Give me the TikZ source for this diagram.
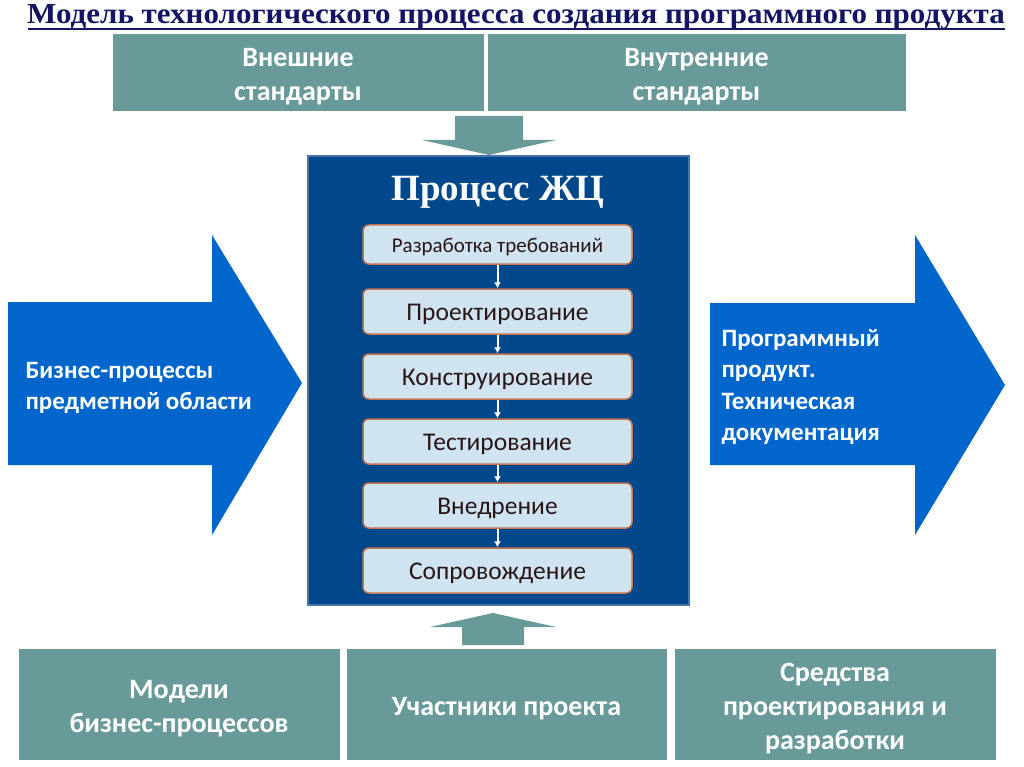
\documentclass[tikz,border=0pt]{standalone}
\usepackage{fontspec}
\setmainfont{Carlito}
\newfontfamily\titlefont{Liberation Serif}
\newfontfamily\titlewide[FakeStretch=1.07]{Liberation Serif}
\usetikzlibrary{arrows.meta}
\definecolor{teal1}{RGB}{104,154,154}
\definecolor{navy1}{RGB}{0,71,139}
\definecolor{navyedge}{RGB}{70,115,170}
\definecolor{arrowblue}{RGB}{0,102,204}
\definecolor{stepfill}{RGB}{207,227,241}
\definecolor{stepedge}{RGB}{196,118,78}
\definecolor{steptext}{RGB}{40,22,22}
\definecolor{titlecol}{RGB}{20,20,100}
\tikzset{
  tealbox/.style={fill=teal1, draw=white, line width=0.6pt, inner sep=0pt},
  tealtext/.style={inner sep=0pt, text=white, font=\bfseries\fontsize{28}{34}\selectfont, align=center},
  stepbox/.style={rounded corners=6pt, fill=stepfill, draw=stepedge, line width=1.5pt,
    minimum width=269pt, text=steptext, font=\fontsize{25.5}{28}\selectfont, inner sep=0pt,
    text height=23pt, text depth=5pt},
  flowarrow/.style={draw=white, line width=2pt, -{Latex[length=6pt,width=7pt]}},
  arrowtext/.style={text=white, font=\bfseries\fontsize{25}{31.3}\selectfont, align=left, anchor=west}
}
\begin{document}
\begin{tikzpicture}[x=1pt,y=-1pt]
\useasboundingbox (0,0) rectangle (1024,767);
\fill[white] (0,0) rectangle (1024,767);
% title
\node[anchor=base, text=titlecol, font=\titlewide\bfseries\fontsize{29}{32}\selectfont, inner sep=0pt] (title) at (516,23.5) {Модель технологического процесса создания программного продукта};
\draw[titlecol, line width=2pt] (28,29) -- (1005,29);
% top boxes
\node[tealbox, minimum width=372pt, minimum height=78pt] (ext) at (298,72) {};
\node[tealtext] (extt) at ([yshift=-4.5pt]ext.center) {Внешние\\стандарты};
\node[tealbox, minimum width=419pt, minimum height=78pt] (int) at (696.5,72) {};
\node[tealtext] (intt) at ([yshift=-4.5pt]int.center) {Внутренние\\стандарты};
% down arrow
\fill[teal1] (455,116) -- (523,116) -- (523,140) -- (556,140) -- (489,155) -- (422,140) -- (455,140) -- cycle;
% central box
\node[fill=navy1, draw=navyedge, line width=2pt, minimum width=381pt, minimum height=449pt, inner sep=0pt] (proc) at (498.5,380.5) {};
\node[text=white, font=\titlefont\bfseries\fontsize{37}{40}\selectfont, inner sep=0pt] (proctitle) at (498,192) {Процесс ЖЦ};
% steps
\node[stepbox, minimum height=39pt, font=\fontsize{21}{24}\selectfont, text height=19pt, text depth=4pt] (s1) at (497.5,244.5) {Разработка требований};
\node[stepbox, minimum height=45pt] (s2) at (497.5,311.5) {Проектирование};
\node[stepbox, minimum height=45pt] (s3) at (497.5,376.5) {Конструирование};
\node[stepbox, minimum height=45pt] (s4) at (497.5,441.5) {Тестирование};
\node[stepbox, minimum height=45pt] (s5) at (497.5,505.5) {Внедрение};
\node[stepbox, minimum height=45pt] (s6) at (497.5,570.5) {Сопровождение};
\draw[flowarrow] (s1.south) -- (s2.north);
\draw[flowarrow] (s2.south) -- (s3.north);
\draw[flowarrow] (s3.south) -- (s4.north);
\draw[flowarrow] (s4.south) -- (s5.north);
\draw[flowarrow] (s5.south) -- (s6.north);
% up arrow
\fill[teal1] (462,645) -- (524,645) -- (524,627) -- (556,627) -- (493,613) -- (430,627) -- (462,627) -- cycle;
% bottom boxes
\node[tealbox, minimum width=322pt, minimum height=112pt] (b1) at (179,704) {};
\node[tealtext] (b1t) at ([yshift=-4.5pt]b1.center) {Модели\\бизнес-процессов};
\node[tealbox, minimum width=321pt, minimum height=112pt] (b2) at (506.5,704) {};
\node[tealtext] (b2t) at ([yshift=-4.5pt]b2.center) {Участники проекта};
\node[tealbox, minimum width=322pt, minimum height=112pt] (b3) at (835,704) {};
\node[tealtext] (b3t) at ([yshift=-4.5pt]b3.center) {Средства\\проектирования и\\разработки};
% left arrow
\fill[arrowblue] (8,302) -- (212,302) -- (212,235) -- (302,383) -- (212,535) -- (212,465) -- (8,465) -- cycle;
\node[arrowtext] (lt) at (22,388) {Бизнес-процессы\\предметной области};
% right arrow
\fill[arrowblue] (710,303) -- (915,303) -- (915,235) -- (1005,385) -- (915,535) -- (915,465) -- (710,465) -- cycle;
\node[arrowtext] (rt) at (718,387) {Программный\\продукт.\\Техническая\\документация};
\end{tikzpicture}
\end{document}
